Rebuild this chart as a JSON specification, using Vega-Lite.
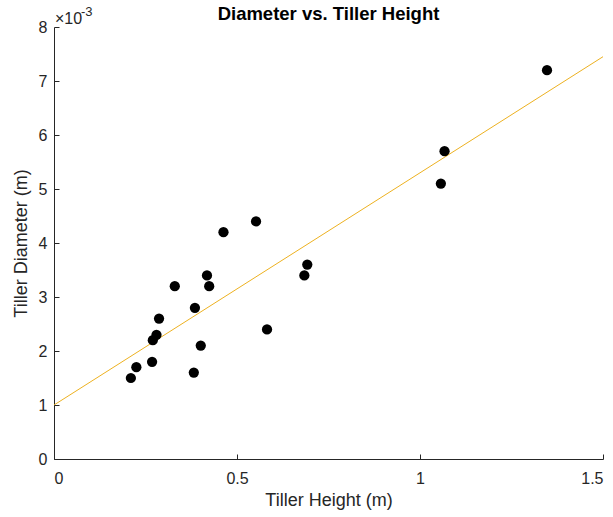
{
  "$schema": "https://vega.github.io/schema/vega-lite/v6.json",
  "autosize": "none",
  "width": 549,
  "height": 432,
  "padding": {"left": 54, "top": 27, "right": 10, "bottom": 58},
  "background": "white",
  "config": {
    "view": {"stroke": null},
    "font": "Liberation Sans",
    "axis": {
      "grid": false,
      "domainColor": "#262626",
      "tickColor": "#262626",
      "labelColor": "#262626",
      "titleColor": "#262626",
      "labelFont": "Liberation Sans",
      "titleFont": "Liberation Sans",
      "labelFontSize": 16,
      "titleFontSize": 18,
      "titleFontWeight": "normal",
      "domainWidth": 1,
      "tickWidth": 1,
      "tickSize": -5
    }
  },
  "title": {
    "text": "Diameter vs. Tiller Height",
    "font": "Liberation Sans",
    "fontSize": 18.5,
    "fontWeight": "bold",
    "color": "#000000",
    "anchor": "middle",
    "offset": -18
  },
  "datasets": {
    "points": [
      {"height": 0.210, "diameter": 0.0015},
      {"height": 0.225, "diameter": 0.0017},
      {"height": 0.268, "diameter": 0.0018},
      {"height": 0.270, "diameter": 0.0022},
      {"height": 0.280, "diameter": 0.0023},
      {"height": 0.287, "diameter": 0.0026},
      {"height": 0.330, "diameter": 0.0032},
      {"height": 0.382, "diameter": 0.0016},
      {"height": 0.385, "diameter": 0.0028},
      {"height": 0.401, "diameter": 0.0021},
      {"height": 0.418, "diameter": 0.0034},
      {"height": 0.424, "diameter": 0.0032},
      {"height": 0.463, "diameter": 0.0042},
      {"height": 0.552, "diameter": 0.0044},
      {"height": 0.582, "diameter": 0.0024},
      {"height": 0.684, "diameter": 0.0034},
      {"height": 0.692, "diameter": 0.0036},
      {"height": 1.057, "diameter": 0.0051},
      {"height": 1.067, "diameter": 0.0057},
      {"height": 1.347, "diameter": 0.0072}
    ],
    "fit": [
      {"height": 0, "diameter": 0.00100},
      {"height": 1.5, "diameter": 0.00745}
    ]
  },
  "layer": [
    {
      "data": {"name": "fit"},
      "mark": {"type": "line", "color": "#EDB120", "strokeWidth": 1},
      "encoding": {
        "x": {
          "field": "height", "type": "quantitative",
          "scale": {"domain": [0, 1.5], "nice": false, "zero": false},
          "axis": {
            "title": "Tiller Height (m)",
            "values": [0, 0.5, 1, 1.5],
            "labelPadding": 16,
            "titlePadding": 5,
            "labelExpr": "datum.value == 0 ? '0' : format(datum.value, '~g')"
          }
        },
        "y": {
          "field": "diameter", "type": "quantitative",
          "scale": {"domain": [0, 0.008], "nice": false},
          "axis": {
            "title": "Tiller Diameter (m)",
            "values": [0, 0.001, 0.002, 0.003, 0.004, 0.005, 0.006, 0.007, 0.008],
            "labelExpr": "format(datum.value * 1000, 'd')",
            "labelPadding": 12,
            "titlePadding": 8
          }
        }
      }
    },
    {
      "data": {"name": "points"},
      "mark": {"type": "circle", "color": "#000000", "opacity": 1, "size": 105},
      "encoding": {
        "x": {"field": "height", "type": "quantitative"},
        "y": {"field": "diameter", "type": "quantitative"}
      }
    },
    {
      "data": {"values": [{"t": "×10"}]},
      "mark": {"type": "text", "align": "left", "baseline": "middle", "fontSize": 16, "color": "#262626", "dx": 1, "font": "Liberation Sans"},
      "encoding": {
        "x": {"datum": 0, "type": "quantitative"},
        "y": {"datum": 0.00815, "type": "quantitative"},
        "text": {"field": "t"}
      }
    },
    {
      "data": {"values": [{"t": "-3"}]},
      "mark": {"type": "text", "align": "left", "baseline": "middle", "fontSize": 13, "color": "#262626", "dx": 27, "dy": -7, "font": "Liberation Sans"},
      "encoding": {
        "x": {"datum": 0, "type": "quantitative"},
        "y": {"datum": 0.00815, "type": "quantitative"},
        "text": {"field": "t"}
      }
    }
  ]
}
